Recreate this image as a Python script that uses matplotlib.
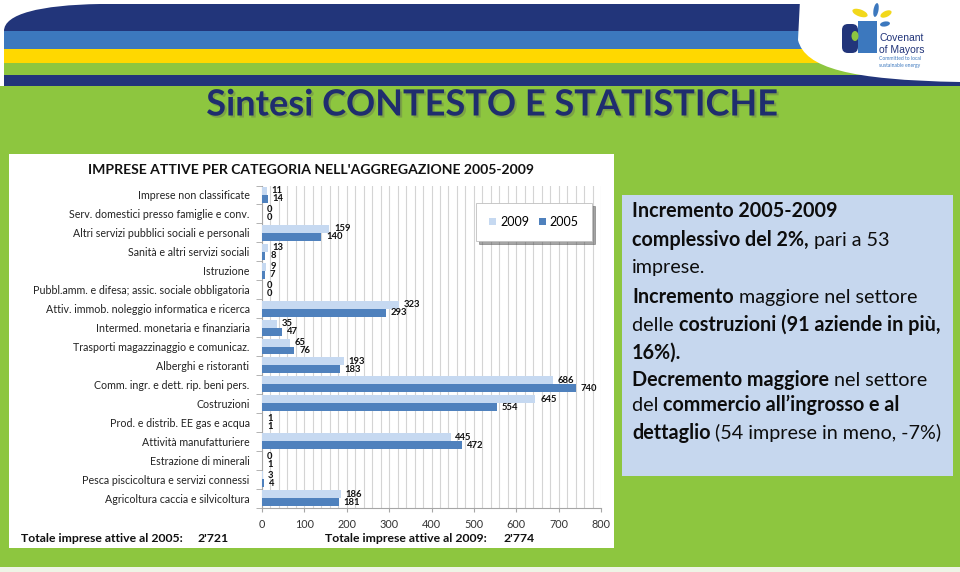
import numpy as np
import matplotlib.pyplot as plt
import matplotlib.patches as mpatches
import matplotlib.patheffects as pe
from matplotlib.path import Path
from matplotlib.font_manager import FontProperties
from matplotlib.ticker import MultipleLocator, FixedLocator

categories = [
    "Imprese non classificate",
    "Serv. domestici presso famiglie e conv.",
    "Altri servizi pubblici sociali e personali",
    "Sanità e altri servizi sociali",
    "Istruzione",
    "Pubbl.amm. e difesa; assic. sociale obbligatoria",
    "Attiv. immob. noleggio informatica e ricerca",
    "Intermed. monetaria e finanziaria",
    "Trasporti magazzinaggio e comunicaz.",
    "Alberghi e ristoranti",
    "Comm. ingr. e dett. rip. beni pers.",
    "Costruzioni",
    "Prod. e distrib. EE gas e acqua",
    "Attività manufatturiere",
    "Estrazione di minerali",
    "Pesca piscicoltura e servizi connessi",
    "Agricoltura caccia e silvicoltura",
]
values_2009 = [11, 0, 159, 13, 9, 0, 323, 35, 65, 193, 686, 645, 1, 445, 0, 3, 186]
values_2005 = [14, 0, 140, 8, 7, 0, 293, 47, 76, 183, 740, 554, 1, 472, 1, 4, 181]
series_names = ["2009", "2005"]
total_2005 = "2'721"
total_2009 = "2'774"

chart_title = "IMPRESE ATTIVE PER CATEGORIA NELL'AGGREGAZIONE 2005-2009"
slide_title = "Sintesi CONTESTO E STATISTICHE"

# (text, bold) pieces per line of the side box
box_lines = [
    [("Incremento 2005-2009", True)],
    [("complessivo del 2%,", True), (" pari a 53", False)],
    [("imprese.", False)],
    [("Incremento", True), (" maggiore nel settore", False)],
    [("delle ", False), ("costruzioni (91 aziende in più,", True)],
    [("16%).", True)],
    [("Decremento maggiore", True), (" nel settore", False)],
    [("del ", False), ("commercio all\u2019ingrosso e al", True)],
    [("dettaglio", True), (" (54 imprese in meno, -7%)", False)],
]

LIGHT = "#C6D9F1"
DARK = "#4F81BD"
NAVY = "#22357A"
GREEN = "#8DC63F"

plt.rcParams["font.family"] = ["Lato", "DejaVu Sans"]

fig = plt.figure(figsize=(9.6, 5.72), dpi=100, facecolor="white")
bg = fig.add_axes([0, 0, 1, 1])
bg.set_xlim(0, 960)
bg.set_ylim(572, 0)
bg.axis("off")

# slide background
bg.add_patch(mpatches.Rectangle((0, 86), 960, 481, color=GREEN, lw=0))
bg.add_patch(mpatches.Rectangle((0, 567), 960, 5, color="#EEF4E6", lw=0))

# header stripes
top = Path([(4, 31), (4, 14), (40, 5), (100, 4), (960, 4), (960, 31), (4, 31)],
           [Path.MOVETO, Path.CURVE4, Path.CURVE4, Path.CURVE4, Path.LINETO, Path.LINETO, Path.CLOSEPOLY])
bg.add_patch(mpatches.PathPatch(top, color=NAVY, lw=0))
for y0, y1, c in [(31, 49, "#3C78BE"), (49, 63, "#FFD800"), (63, 75, GREEN), (75, 86, NAVY)]:
    bg.add_patch(mpatches.Rectangle((4, y0), 956, y1 - y0, color=c, lw=0))

white = Path([(800, 0), (798, 40), (805, 68), (850, 80), (960, 82), (960, 0), (800, 0)],
             [Path.MOVETO, Path.LINETO, Path.CURVE4, Path.CURVE4, Path.CURVE4, Path.LINETO, Path.CLOSEPOLY])
bg.add_patch(mpatches.PathPatch(white, color="white", lw=0))

# logo (simplified)
bg.add_patch(mpatches.FancyBboxPatch((842, 24), 16, 29, boxstyle="round,pad=0,rounding_size=6", color=NAVY, lw=0))
bg.add_patch(mpatches.Rectangle((858, 21), 19, 32, color="#3C78BE", lw=0))
bg.add_patch(mpatches.Ellipse((855, 36), 7, 10, color="#8DC63F", lw=0))
bg.add_patch(mpatches.Ellipse((860, 13), 16, 7, angle=20, color="#F2D81B", lw=0))
bg.add_patch(mpatches.Ellipse((876, 10), 5, 14, angle=10, color="#3C78BE", lw=0))
bg.add_patch(mpatches.Ellipse((886, 14), 12, 6, angle=-25, color="#F2D81B", lw=0))
bg.add_patch(mpatches.Ellipse((885, 24), 10, 5, angle=-10, color="#3C78BE", lw=0))
bg.text(879, 38, "Covenant", fontsize=7.5, color=NAVY, va="center", ha="left", family="Liberation Sans")
bg.text(879, 50, "of Mayors", fontsize=7.5, color=NAVY, va="center", ha="left", family="Liberation Sans")
bg.text(879, 59, "Committed to local", fontsize=3.6, color="#3C78BE", va="center", ha="left")
bg.text(879, 65, "sustainable energy", fontsize=3.6, color="#3C78BE", va="center", ha="left")

# slide title
bg.text(492, 105, slide_title, fontsize=26, fontweight="bold", color="#1F2D6E",
        ha="center", va="center",
        path_effects=[pe.withSimplePatchShadow(offset=(1.5, -1.5), shadow_rgbFace="#555555", alpha=0.3)])

# chart panel
bg.add_patch(mpatches.Rectangle((9, 154), 605, 394, color="white", lw=0))
bg.text(311, 170, chart_title, fontsize=10.1, fontweight="bold", color="#111111", ha="center", va="center")

# side box
bg.add_patch(mpatches.Rectangle((622, 195), 331, 281, color="#C6D7EE", lw=0))

renderer = fig.canvas.get_renderer()


def text_width(s, size, bold):
    prop = FontProperties(family=["Lato", "DejaVu Sans"], size=size, weight="bold" if bold else "normal")
    w1 = renderer.get_text_width_height_descent("|" + s + "|", prop, ismath=False)[0]
    w0 = renderer.get_text_width_height_descent("||", prop, ismath=False)[0]
    return w1 - w0


line_y = [211, 240, 267, 297, 325, 353, 380, 405, 433]
for parts, yc in zip(box_lines, line_y):
    x = 632
    for txt, bold in parts:
        bg.text(x, yc + 6, txt, fontsize=14.2, fontweight="bold" if bold else "normal",
                color="#0D0D0D", ha="left", va="baseline")
        x += text_width(txt, 14.2, bold)

# footer totals
bg.text(21, 538, "Totale imprese attive al 2005:", fontsize=8.8, fontweight="bold", color="#111111", va="center")
bg.text(197, 538, total_2005, fontsize=8.8, fontweight="bold", color="#111111", va="center")
bg.text(325, 538, "Totale imprese attive al 2009:", fontsize=8.8, fontweight="bold", color="#111111", va="center")
bg.text(503, 538, total_2009, fontsize=8.8, fontweight="bold", color="#111111", va="center")

# bar chart
ax = fig.add_axes([262 / 960, 1 - 507.5 / 572, 339 / 960, 322 / 572])
ax.set_facecolor("white")
n = len(categories)
pos = np.arange(n)
h = 0.42
ax.barh(pos - h / 2, values_2009, height=h, color=LIGHT, label=series_names[0], zorder=3)
ax.barh(pos + h / 2, values_2005, height=h, color=DARK, label=series_names[1], zorder=3)
for y, v in zip(pos - h / 2, values_2009):
    ax.annotate(str(v), xy=(v, y), xytext=(3.5, 0), textcoords="offset points",
                ha="left", va="center", fontsize=6.8, fontweight="bold", color="#111111")
for y, v in zip(pos + h / 2, values_2005):
    ax.annotate(str(v), xy=(v, y), xytext=(3.5, 0), textcoords="offset points",
                ha="left", va="center", fontsize=6.8, fontweight="bold", color="#111111")

ax.set_xlim(0, 800)
ax.set_ylim(n - 0.5, -0.5)
ax.xaxis.set_major_locator(MultipleLocator(100))
ax.xaxis.set_minor_locator(MultipleLocator(20))
ax.grid(True, axis="x", which="both", color="#D4D4D4", lw=0.8, zorder=0)
ax.set_axisbelow(True)
ax.set_yticks(pos)
ax.set_yticklabels(categories, fontsize=7.7, color="#222222")
ax.yaxis.set_minor_locator(FixedLocator(np.arange(n + 1) - 0.5))
ax.tick_params(axis="y", which="major", length=0, pad=9)
ax.tick_params(axis="y", which="minor", length=4, color="#A6A6A6")
ax.tick_params(axis="x", which="major", length=3, color="#A6A6A6", labelsize=7.8, labelcolor="#333333", pad=5)
ax.tick_params(axis="x", which="minor", length=0)
for s in ["top", "right"]:
    ax.spines[s].set_visible(False)
for s in ["left", "bottom"]:
    ax.spines[s].set_color("#A6A6A6")
    ax.spines[s].set_linewidth(0.8)

leg = ax.legend(loc="upper right", bbox_to_anchor=(0.973, 0.946), ncol=2, fontsize=9,
                frameon=True, fancybox=False, shadow=True, borderpad=1.05, borderaxespad=0,
                handlelength=0.55, handleheight=0.55, handletextpad=0.3, columnspacing=0.8)
leg.get_frame().set_edgecolor("#BFBFBF")
leg.get_frame().set_linewidth(0.6)

fig.savefig("out.png", dpi=100, facecolor="white")
